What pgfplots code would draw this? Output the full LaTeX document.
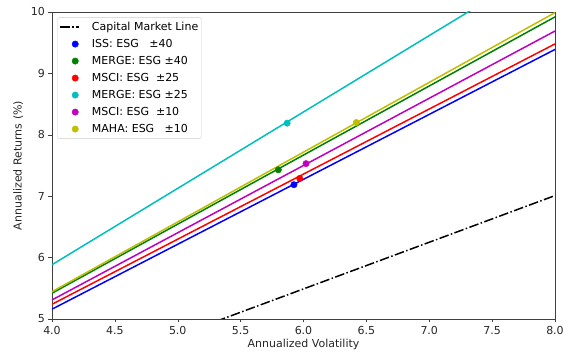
\documentclass[border=0pt]{standalone}
\usepackage{fontspec}
\setmainfont{DejaVu Sans}
\usepackage{pgfplots}
\pgfplotsset{compat=1.18}
\definecolor{mb}{rgb}{0,0,1}
\definecolor{mg}{rgb}{0,0.5,0}
\definecolor{mr}{rgb}{1,0,0}
\definecolor{mc}{rgb}{0,0.75,0.75}
\definecolor{mm}{rgb}{0.75,0,0.75}
\definecolor{my}{rgb}{0.75,0.75,0}
\pgfplotsset{
  markleg/.style={legend image code/.code={\path[draw=none,fill=none] (0pt,0pt) -- (19pt,0pt); \draw[##1,only marks] plot coordinates {(15pt,0pt)};}},
  lineleg/.style={legend image code/.code={\draw[##1] (0pt,0pt) -- (19pt,0pt);}},
}
\begin{document}
\begin{tikzpicture}
\useasboundingbox (-52pt,-39pt) rectangle (511pt,307pt+12pt);
\begin{axis}[
  at={(0,0)}, anchor=south west,
  scale only axis, width=503pt, height=307pt,
  xmin=4, xmax=8, ymin=5, ymax=10,
  xtick={4,4.5,...,8}, ytick={5,6,7,8,9,10},
  xticklabel style={/pgf/number format/.cd,fixed,fixed zerofill,precision=1},
  /pgf/number format/assume math mode=true,
  tick label style={font=\fontsize{11}{13}\selectfont, text=black!85},
  label style={font=\fontsize{11}{13}\selectfont, text=black!85},
  tick align=outside, tick pos=left,
  major tick length=3.5pt,
  axis line style={black!75},
  every tick/.style={black!75},
  xlabel={Annualized Volatility},
  ylabel={Annualized Returns (\%)},
  xlabel style={yshift=2pt},
  ylabel style={yshift=1pt},
  clip=true,
  legend style={at={(0.0105,0.9825)}, anchor=north west, draw=black!20, rounded corners=2pt,
    font=\fontsize{11}{13}\selectfont, cells={anchor=west},
    nodes={text height=8.5pt, text depth=2.5pt, inner sep=1pt},
    row sep=4pt, inner xsep=2pt, inner ysep=3pt,
    /tikz/column 1/.style={column sep=11pt}},
]
\addplot[black, line width=1.5pt, dash pattern=on 9.6pt off 2.4pt on 1.5pt off 2.4pt, lineleg] coordinates {(4,3.97) (8,7.01)};
\addlegendentry{Capital Market Line}
\addplot[mb, line width=1.5pt, forget plot] coordinates {(4,5.16) (8,9.39)};
\addplot[mr, line width=1.5pt, forget plot] coordinates {(4,5.24) (8,9.48)};
\addplot[mm, line width=1.5pt, forget plot] coordinates {(4,5.31) (8,9.69)};
\addplot[mg, line width=1.5pt, forget plot] coordinates {(4,5.42) (8,9.92)};
\addplot[my, line width=1.5pt, forget plot] coordinates {(4,5.445) (8,9.99)};
\addplot[mc, line width=1.5pt, forget plot] coordinates {(4,5.884) (8,10.86)};
\addplot[only marks, mark=*, mark size=3.2pt, color=mb, markleg] coordinates {(5.924,7.187)};
\addlegendentry{ISS: ESG\ \ \ ±40}
\addplot[only marks, mark=*, mark size=3.2pt, color=mg, markleg] coordinates {(5.80,7.43)};
\addlegendentry{MERGE: ESG ±40}
\addplot[only marks, mark=*, mark size=3.2pt, color=mr, markleg] coordinates {(5.97,7.29)};
\addlegendentry{MSCI: ESG\ \ ±25}
\addplot[only marks, mark=*, mark size=3.2pt, color=mc, markleg] coordinates {(5.87,8.19)};
\addlegendentry{MERGE: ESG ±25}
\addplot[only marks, mark=*, mark size=3.2pt, color=mm, markleg] coordinates {(6.02,7.53)};
\addlegendentry{MSCI: ESG\ \ ±10}
\addplot[only marks, mark=*, mark size=3.2pt, color=my, markleg] coordinates {(6.42,8.20)};
\addlegendentry{MAHA: ESG\ \ \ ±10}
\end{axis}
\end{tikzpicture}
\end{document}
